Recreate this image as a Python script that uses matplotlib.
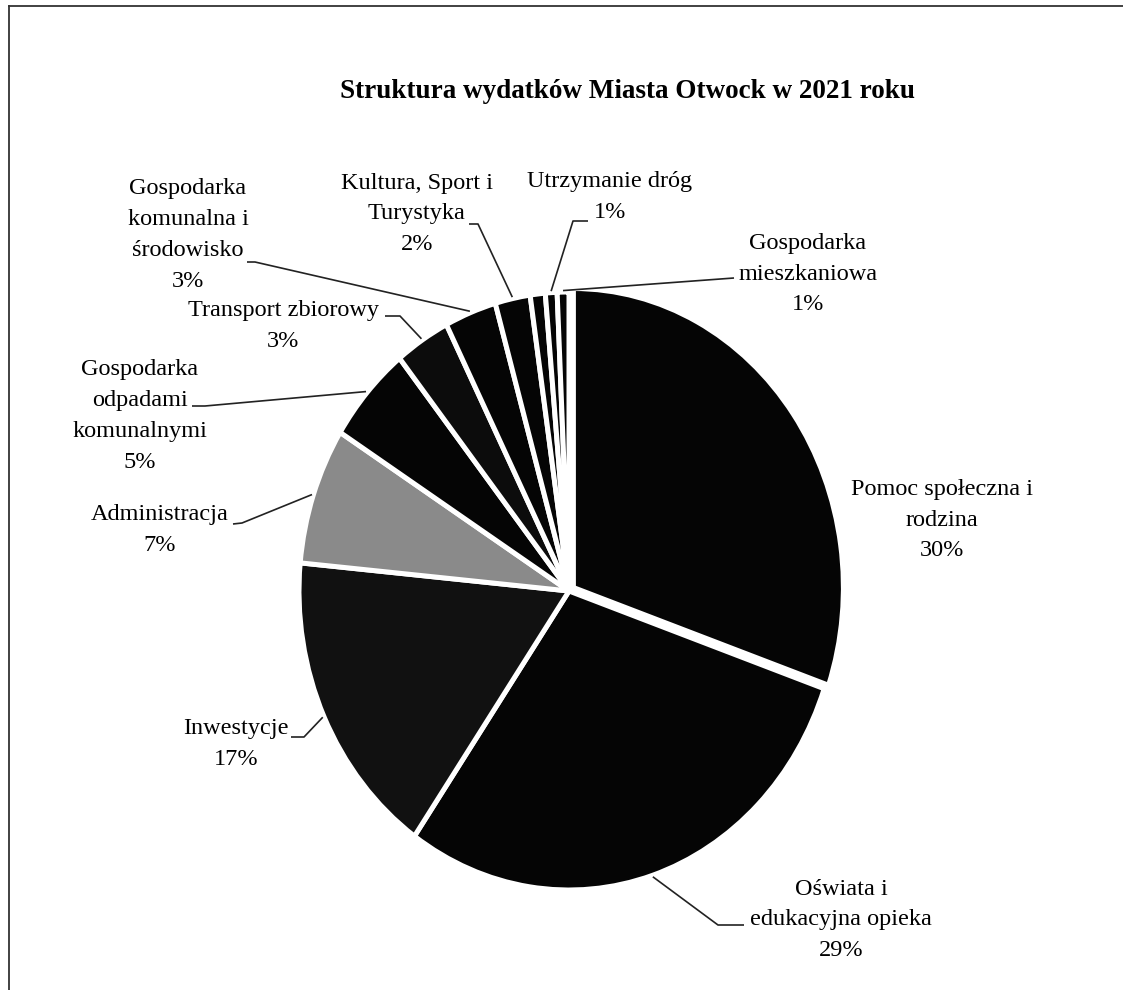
import matplotlib.pyplot as plt
from matplotlib.lines import Line2D
import numpy as np

# figure / pie geometry in pixels (scan is slightly squashed horizontally)
W, H = 1123, 990
CX, CY, RX, RY = 569, 591, 270, 299

categories = ['Pomoc społeczna i rodzina', 'Oświata i edukacyjna opieka', 'Inwestycje',
              'Administracja', 'Gospodarka odpadami komunalnymi', 'Transport zbiorowy',
              'Gospodarka komunalna i środowisko', 'Kultura, Sport i Turystyka',
              'Pozostałe', 'Utrzymanie dróg', 'Gospodarka mieszkaniowa']
values = [30.3, 29.4, 16.8, 7.4, 5.3, 3.3, 3.1, 2.1, 0.9, 0.7, 0.7]
label_lines = [['Pomoc społeczna i', 'rodzina'], ['Oświata i', 'edukacyjna opieka'],
               ['Inwestycje'], ['Administracja'], ['Gospodarka', 'odpadami', 'komunalnymi'],
               ['Transport zbiorowy'], ['Gospodarka', 'komunalna i', 'środowisko'],
               ['Kultura, Sport i', 'Turystyka'], None, ['Utrzymanie dróg'],
               ['Gospodarka', 'mieszkaniowa']]
title = 'Struktura wydatków Miasta Otwock w 2021 roku'

colors = ['#050505', '#050505', '#111111', '#8a8a8a', '#050505', '#0c0c0c',
          '#050505', '#050505', '#050505', '#050505', '#050505']
explode = [0.02] + [0] * (len(values) - 1)

# label block centres (pixels) and leader paths from text side to the rim
label_pos = [(942, 520), (841, 920), (236, 744), (160, 530), (140, 416), (283, 326),
             (188, 235), (417, 214), None, (610, 197), (808, 274)]
leader_pts = [None, [(744, 925), (718, 925)], [(291, 737), (304, 737)],
              [(233, 524), (242, 523)], [(192, 406), (205, 406)],
              [(385, 316), (400, 316)], [(247, 262), (255, 262)],
              [(469, 224), (478, 224)], None, [(588, 221), (573, 221)],
              [(734, 278)]]


def px(x, y):
    return (x - CX) / RX, (CY - y) / RY


fig = plt.figure(figsize=(W / 100, H / 100), dpi=100)
ax = fig.add_axes([0, 0, 1, 1])
wedges, _ = ax.pie(values, startangle=90, counterclock=False, colors=colors,
                   explode=explode,
                   wedgeprops=dict(edgecolor='white', linewidth=3.6))
ax.set_xlim(-CX / RX, (W - CX) / RX)
ax.set_ylim((CY - H) / RY, CY / RY)
ax.set_aspect('auto')
ax.axis('off')

total = sum(values)
font = dict(family='Liberation Serif', fontsize=17.5, color='black')
for i, w in enumerate(wedges):
    if label_lines[i] is None:
        continue
    pct = f'{round(values[i] / total * 100)}%'
    x, y = px(*label_pos[i])
    ax.text(x, y, '\n'.join(label_lines[i] + [pct]), ha='center', va='center',
            linespacing=1.62, **font)
    if leader_pts[i] is not None:
        mid = np.deg2rad((w.theta1 + w.theta2) / 2)
        anchor = (np.cos(mid) * 1.005, np.sin(mid) * 1.005)
        pts = [px(*p) for p in leader_pts[i]] + [anchor]
        xs, ys = zip(*pts)
        ax.plot(xs, ys, color='#222222', linewidth=1.2, solid_capstyle='butt')

fig.text(627 / W, 1 - 91 / H, title, ha='center', va='center',
         family='Liberation Serif', fontweight='bold', fontsize=19.5)

# scan frame: top and left edges only
fig.add_artist(Line2D([9 / W, 1], [1 - 6 / H, 1 - 6 / H], transform=fig.transFigure,
                      color='#333333', linewidth=1.3))
fig.add_artist(Line2D([9 / W, 9 / W], [0, 1 - 6 / H], transform=fig.transFigure,
                      color='#333333', linewidth=1.3))

fig.savefig('out.png', dpi=100, facecolor='white')
